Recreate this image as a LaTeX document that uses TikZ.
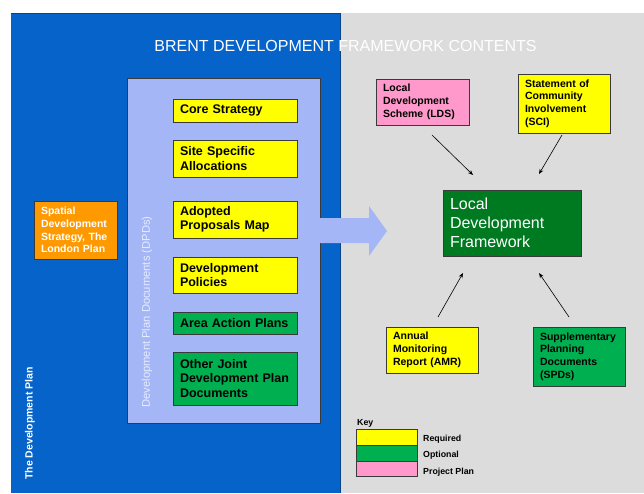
\documentclass[tikz,border=0pt]{standalone}
\usepackage{fontspec}
\setmainfont{Liberation Sans}
\usetikzlibrary{arrows.meta}
\definecolor{bgblue}{RGB}{5,99,201}
\definecolor{bggrey}{RGB}{220,220,220}
\definecolor{panel}{RGB}{164,182,246}
\definecolor{yel}{RGB}{255,255,0}
\definecolor{grn}{RGB}{0,176,80}
\definecolor{dgrn}{RGB}{0,122,32}
\definecolor{pnk}{RGB}{255,153,204}
\definecolor{org}{RGB}{255,153,0}
\definecolor{edge}{RGB}{58,58,58}
\definecolor{dpdtxt}{RGB}{230,236,255}
\tikzset{
  box/.style={draw=edge, line width=0.8pt, inner xsep=7pt, inner ysep=0pt,
    align=left, font=\bfseries\fontsize{12.5}{14.5}\selectfont, anchor=center},
  rbox/.style={box, font=\bfseries\fontsize{10.5}{12.8}\selectfont},
  conn/.style={line width=0.6pt, -{Stealth[length=5pt,width=4pt]}},
  keybox/.style={draw=edge, line width=0.6pt, minimum width=61pt, inner sep=0pt},
  keylbl/.style={anchor=west, inner sep=0pt, font=\bfseries\fontsize{8.8}{10}\selectfont}
}
\begin{document}
\begin{tikzpicture}[x=1pt,y=-1pt]
\useasboundingbox (0,0) rectangle (644,493);
\fill[white] (0,0) rectangle (644,493);
% backgrounds
\fill[bgblue] (11,13) rectangle (340,493);
\fill[bggrey] (340,13) rectangle (644,493);
\draw[bgblue!70!black, line width=0.8pt] (11,13) -- (340,13) -- (340,493);
% panel
\draw[edge, line width=0.8pt, fill=panel] (127,78) rectangle (320,423);
% big arrow
\fill[panel] (319,218) -- (369,218) -- (369,206) -- (387,231) -- (369,256) -- (369,243) -- (319,243) -- cycle;
% title
\node[text=white, font=\fontsize{16}{19}\selectfont, inner sep=0pt] (title) at (345.5,45.5) {BRENT DEVELOPMENT FRAMEWORK CONTENTS};
% rotated labels
\node[text=white, rotate=90, font=\bfseries\fontsize{10.5}{12}\selectfont, inner sep=0pt] (tdp) at (30,423.5) {The Development Plan};
\node[text=dpdtxt, rotate=90, font=\fontsize{11.2}{13}\selectfont, inner sep=0pt] (dpd) at (147,312) {Development Plan Documents (DPDs)};
% left boxes
\node[box, fill=yel, minimum width=124pt, minimum height=23pt, text width=110pt] (core) at (235,110.5) {Core Strategy};
\node[box, fill=yel, minimum width=124pt, minimum height=37pt, text width=110pt] (site) at (235,158.5) {Site Specific\\Allocations};
\node[box, fill=yel, minimum width=124pt, minimum height=37pt, text width=110pt] (adopted) at (235,219.5) {Adopted\\Proposals Map};
\node[box, fill=yel, minimum width=124pt, minimum height=36pt, text width=110pt] (devpol) at (235,275) {Development\\Policies};
\node[box, fill=grn, minimum width=124pt, minimum height=22pt, text width=110pt] (aap) at (235,323) {Area Action Plans};
\node[box, fill=grn, minimum width=124pt, minimum height=53pt, text width=110pt] (other) at (235,378.5) {Other Joint\\Development Plan\\Documents};
\node[rbox, fill=org, text=white, minimum width=83pt, minimum height=58pt, text width=69pt] (sds) at (75.5,230) {Spatial\\Development\\Strategy, The\\London Plan};
% right boxes
\node[rbox, fill=pnk, minimum width=93pt, minimum height=46pt, text width=79pt] (lds) at (422.5,102) {Local\\Development\\Scheme (LDS)};
\node[rbox, fill=yel, minimum width=92pt, minimum height=59pt, text width=78pt] (sci) at (564,103.5) {Statement of\\Community\\Involvement\\(SCI)};
\node[box, fill=dgrn, text=white, font=\fontsize{16}{19}\selectfont, minimum width=138pt, minimum height=66pt, text width=124pt] (ldf) at (512,223) {Local\\Development\\Framework};
\node[rbox, fill=yel, minimum width=92pt, minimum height=46pt, text width=78pt] (amr) at (432,350) {Annual\\Monitoring\\Report (AMR)};
\node[rbox, fill=grn, minimum width=92pt, minimum height=59pt, text width=78pt] (spd) at (579,356.5) {Supplementary\\Planning\\Documents\\(SPDs)};
% connectors
\coordinate (ldsS) at (432,135);
\coordinate (ldsE) at (473,175);
\coordinate (sciS) at (562,135);
\coordinate (sciE) at (539,174);
\coordinate (amrS) at (438,317);
\coordinate (amrE) at (463,273);
\coordinate (spdS) at (569,317);
\coordinate (spdE) at (539,273);
\draw[conn] (ldsS) -- (ldsE);
\draw[conn] (sciS) -- (sciE);
\draw[conn] (amrS) -- (amrE);
\draw[conn] (spdS) -- (spdE);
% key
\node[keylbl] (keyt) at (357,423) {Key};
\node[keybox, fill=yel, minimum height=16pt] (k1) at (386.5,437) {};
\node[keybox, fill=grn, minimum height=16pt] (k2) at (386.5,453) {};
\node[keybox, fill=pnk, minimum height=15pt] (k3) at (386.5,468.5) {};
\node[keylbl] (l1) at (423,439) {Required};
\node[keylbl] (l2) at (423,455) {Optional};
\node[keylbl] (l3) at (423,472) {Project Plan};
\end{tikzpicture}
\end{document}
